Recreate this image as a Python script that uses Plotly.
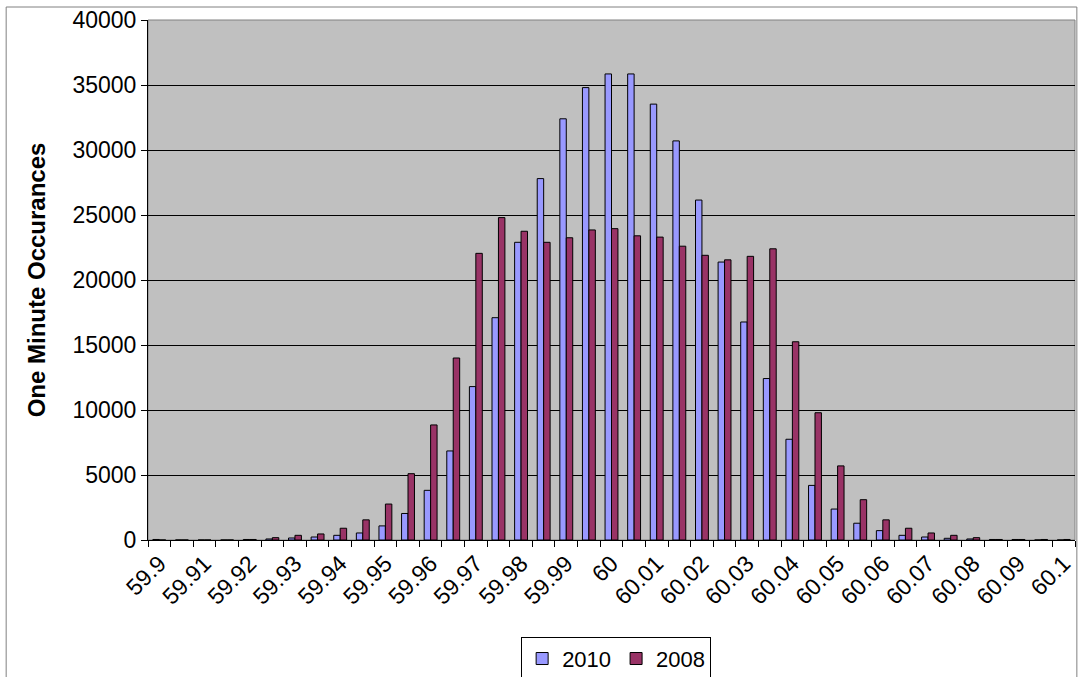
import plotly.graph_objects as go

# frequency bins (Hz), 0.005 steps
bins = [f"{59.9 + 0.005 * i:.3f}".rstrip("0").rstrip(".") for i in range(41)]
# only every other bin gets a label
bin_labels = [b if i % 2 == 0 else "" for i, b in enumerate(bins)]

occ_2010 = [40, 0, 0, 0, 40, 80, 155, 230, 360, 540,
            1085, 2040, 3820, 6850, 11800, 17100, 22900, 27800, 32400, 34800,
            35850, 35850, 33530, 30700, 26150, 21380, 16770, 12420, 7750, 4200,
            2380, 1290, 720, 360, 230, 130, 80, 40, 40, 0, 0]

occ_2008 = [0, 0, 0, 0, 40, 180, 360, 465, 905, 1550,
            2765, 5100, 8850, 14000, 22050, 24800, 23750, 22900, 23250, 23850,
            23950, 23400, 23300, 22600, 21900, 21550, 21820, 22400, 15250, 9790,
            5700, 3100, 1550, 905, 540, 360, 180, 40, 40, 40, 40]

FONT = "Liberation Sans, Arial, sans-serif"
FSIZE = 23

fig = go.Figure()
fig.add_trace(go.Bar(
    name="2010", x=bins, y=occ_2010,
    marker=dict(color="#9999FF", line=dict(color="black", width=1))
))
fig.add_trace(go.Bar(
    name="2008", x=bins, y=occ_2008,
    marker=dict(color="#993366", line=dict(color="black", width=1))
))

fig.update_layout(
    width=1079, height=677,
    margin=dict(l=148, r=4, t=20, b=137, autoexpand=False),
    paper_bgcolor="white",
    plot_bgcolor="#C0C0C0",
    font=dict(family=FONT, size=FSIZE, color="black"),
    barmode="group",
    bargap=0.43,
    bargroupgap=0,
    showlegend=True,
    legend=dict(
        orientation="h", x=0.505, xanchor="center", y=-0.186, yanchor="top",
        bordercolor="black", borderwidth=1, bgcolor="white",
        font=dict(family=FONT, size=22), traceorder="normal",
        itemwidth=30, tracegroupgap=0,
    ),
)

fig.update_xaxes(
    type="category",
    tickmode="array", tickvals=bins, ticktext=bin_labels,
    tickangle=-45, tickfont=dict(family=FONT, size=FSIZE),
    tickson="boundaries",
    ticks="outside", ticklen=6, tickcolor="black",
    showline=True, linecolor="black", linewidth=1,
    showgrid=False, automargin=False,
)

fig.update_yaxes(
    range=[0, 40000], dtick=5000, tickformat="d",
    tickfont=dict(family=FONT, size=FSIZE),
    ticks="outside", ticklen=6, tickcolor="black",
    showline=True, linecolor="black", linewidth=1,
    showgrid=True, gridcolor="black", gridwidth=1,
    zeroline=False, automargin=False,
    title=dict(text="<b>One Minute Occurances</b>",
               font=dict(family=FONT, size=24), standoff=20),
)

# plot area border (grey) and chart area border
fig.add_shape(type="rect", xref="paper", yref="paper", x0=0, x1=1, y0=0, y1=1,
              line=dict(color="#808080", width=1), layer="below")
fig.add_shape(type="rect", xref="paper", yref="paper",
              x0=-0.153, x1=1.002, y0=-0.3, y1=1.025,
              line=dict(color="#808080", width=1), layer="below")

# drop the default body margin so the chart sits at the page origin
fig.write_html("out.html", config={"displayModeBar": False},
               post_script="document.body.style.margin='0';")
